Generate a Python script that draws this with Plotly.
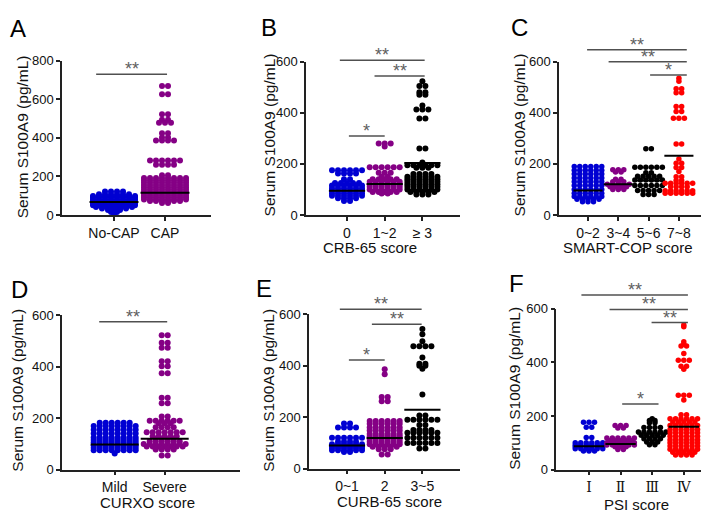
import numpy as np
import plotly.graph_objects as go

# ======================= DATA =======================
# Panel A
A_CATS = ["No-CAP", "CAP"]
A_NOCAP_LEVELS = [122, 108, 98, 90, 82, 74, 66, 58, 50, 42, 34, 26, 15, 5]
A_NOCAP_COUNTS = [4, 6, 8, 8, 8, 8, 8, 8, 8, 7, 5, 3, 2, 1]
A_CAP_LEVELS = [668, 626, 522, 493, 478, 424, 402, 386, 283, 260, 206,
                192, 180, 168, 156, 144, 132, 120, 110, 100, 90, 80, 72, 62]
A_CAP_COUNTS = [2, 2, 2, 2, 3, 2, 2, 4, 6, 4, 2,
                8, 8, 8, 8, 8, 8, 8, 8, 8, 8, 8, 6, 2]
A_LINES = [67, 115]

# Panel B
B_CATS = ["0", "1~2", "\u2265 3"]
B_0_LEVELS = [175, 162, 140, 125, 115, 105, 95, 85, 75, 65, 55]
B_0_COUNTS = [6, 4, 2, 5, 6, 6, 6, 6, 6, 4, 2]
B_12_LEVELS = [280, 268, 187, 165, 150, 140, 130, 120, 110, 100, 90, 84]
B_12_COUNTS = [3, 1, 6, 3, 2, 5, 6, 6, 6, 6, 5, 2]
B_3_LEVELS = [523, 505, 480, 470, 428, 413, 377, 260, 205, 195, 185, 160,
              150, 140, 130, 120, 110, 100, 90, 80]
B_3_COUNTS = [1, 2, 2, 2, 1, 3, 2, 2, 1, 6, 3, 4, 6, 6, 6, 6, 6, 6, 5, 3]
B_LINES = [95, 121, 203]

# Panel C
C_CATS = ["0~2", "3~4", "5~6", "7~8"]
C_02_LEVELS = [190, 175, 160, 145, 130, 115, 100, 85, 72, 62, 52]
C_02_COUNTS = [6, 6, 6, 6, 6, 6, 6, 6, 6, 5, 3]
C_34_LEVELS = [177, 168, 140, 130, 120, 110, 100]
C_34_COUNTS = [3, 2, 2, 3, 5, 4, 3]
C_56_LEVELS = [259, 187, 165, 152, 137, 115, 96, 80]
C_56_COUNTS = [2, 6, 2, 5, 6, 6, 5, 3]
C_78_LEVELS = [535, 523, 494, 478, 424, 405, 378, 278, 219, 202, 186, 170,
               150, 135, 124, 110, 95, 85]
C_78_COUNTS = [1, 1, 2, 2, 2, 2, 3, 2, 1, 2, 2, 1, 2, 2, 6, 4, 6, 6]
C_LINES = [96, 120, 135, 232]

# Panel D
D_CATS = ["Mild", "Severe"]
D_MILD_LEVELS = [182, 170, 155, 140, 125, 115, 105, 95, 85, 75, 63]
D_MILD_COUNTS = [6, 8, 8, 8, 8, 8, 8, 8, 8, 8, 1]
D_SEV_LEVELS = [522, 493, 474, 421, 402, 375, 279, 258, 207, 190, 180, 165,
                145, 130, 120, 110, 100, 90, 78, 55]
D_SEV_COUNTS = [2, 2, 2, 2, 2, 2, 2, 2, 2, 6, 3, 4, 7, 5, 4, 6, 8, 7, 4, 2]
D_LINES = [98, 120]

# Panel E
E_CATS = ["0~1", "2", "3~5"]
E_01_LEVELS = [176, 160, 120, 105, 95, 88, 80, 72, 65]
E_01_COUNTS = [2, 4, 6, 4, 6, 6, 6, 6, 2]
E_2_LEVELS = [386, 367, 279, 262, 185, 175, 160, 148, 135, 125, 115, 105,
              95, 85, 75, 55]
E_2_COUNTS = [1, 1, 2, 2, 6, 6, 6, 6, 6, 6, 6, 6, 6, 5, 3, 2]
E_35_LEVELS = [543, 522, 495, 476, 432, 408, 400, 388, 288, 207, 190, 170,
               150, 140, 120, 100, 78]
E_35_COUNTS = [1, 1, 1, 4, 1, 2, 2, 1, 1, 2, 6, 2, 4, 6, 6, 6, 2]
E_LINES = [90, 119, 229]

# Panel F
F_CATS = ["\u2160", "\u2161", "\u2162", "\u2163"]
F_I_LEVELS = [177, 158, 120, 100, 92, 85, 78, 70]
F_I_COUNTS = [3, 2, 2, 6, 6, 6, 6, 3]
F_II_LEVELS = [165, 155, 118, 108, 100, 92, 85, 75]
F_II_COUNTS = [3, 2, 6, 5, 6, 6, 3, 2]
F_III_LEVELS = [190, 183, 175, 157, 140, 128, 115, 103, 93]
F_III_COUNTS = [1, 2, 2, 4, 6, 5, 4, 3, 2]
F_IV_LEVELS = [540, 533, 477, 468, 461, 433, 408, 386, 375, 278, 260, 205,
               190, 178, 165, 150, 138, 125, 112, 100, 88, 76, 65, 55]
F_IV_COUNTS = [1, 1, 1, 1, 2, 1, 3, 2, 1, 3, 1, 2,
               6, 5, 6, 6, 6, 6, 6, 6, 6, 6, 5, 4]
F_LINES = [87, 96, 135, 160]

# ======================= STYLE / LAYOUT =======================
W, H = 709, 514
FONT = "Liberation Sans, Arial, Helvetica, sans-serif"
BLUE, PURPLE, BLACK, RED = "#0000d2", "#850085", "#000000", "#ff0000"
AXC = "#222222"
SIGC = "#505050"
YTITLE = "Serum S100A9 (pg/mL)"

panels = [
    dict(cats=A_CATS, groups=[(A_NOCAP_LEVELS, A_NOCAP_COUNTS, BLUE),
                              (A_CAP_LEVELS, A_CAP_COUNTS, PURPLE)],
         lines=A_LINES, xpx=(54, 203), ypx=(47, 206), ymax=800, c0=106, sp=51,
         dot=6, sig=[(-0.35, 1.04, 730, "**")],
         letter=("A", 10, 14), ytitle=(14, 126), xtitle=None),
    dict(cats=B_CATS, groups=[(B_0_LEVELS, B_0_COUNTS, BLUE),
                              (B_12_LEVELS, B_12_COUNTS, PURPLE),
                              (B_3_LEVELS, B_3_COUNTS, BLACK)],
         lines=B_LINES, xpx=(298, 452), ypx=(48, 206), ymax=600, c0=339, sp=37.7,
         dot=6, sig=[(-0.19, 2.06, 605, "**"), (0.73, 2.06, 544, "**"), (0.05, 1.0, 309, "*")],
         letter=("B", 261, 13), ytitle=(261, 124), xtitle=("CRB-65 score", 362, 240)),
    dict(cats=C_CATS, groups=[(C_02_LEVELS, C_02_COUNTS, BLUE),
                              (C_34_LEVELS, C_34_COUNTS, PURPLE),
                              (C_56_LEVELS, C_56_COUNTS, BLACK),
                              (C_78_LEVELS, C_78_COUNTS, RED)],
         lines=C_LINES, xpx=(551, 697), ypx=(48, 206), ymax=600, c0=580, sp=30.3,
         dot=5.5, sig=[(-0.03, 3.26, 646, "**"), (0.68, 3.26, 599, "**"), (2.05, 3.26, 548, "*")],
         letter=("C", 511, 13), ytitle=(511, 124), xtitle=("SMART-COP score", 619, 240)),
    dict(cats=D_CATS, groups=[(D_MILD_LEVELS, D_MILD_COUNTS, BLUE),
                              (D_SEV_LEVELS, D_SEV_COUNTS, PURPLE)],
         lines=D_LINES, xpx=(54, 232), ypx=(309.3, 468.3), ymax=600, c0=106.7, sp=50,
         dot=6, sig=[(-0.31, 1.05, 575, "**")],
         letter=("D", 11, 283), ytitle=(10, 387), xtitle=("CURXO score", 139, 502)),
    dict(cats=E_CATS, groups=[(E_01_LEVELS, E_01_COUNTS, BLUE),
                              (E_2_LEVELS, E_2_COUNTS, PURPLE),
                              (E_35_LEVELS, E_35_COUNTS, BLACK)],
         lines=E_LINES, xpx=(301, 451.7), ypx=(308.3, 467.3), ymax=600, c0=339, sp=37.7,
         dot=6, sig=[(-0.19, 1.98, 620, "**"), (0.66, 1.98, 561, "**"), (0.05, 1.0, 422, "*")],
         letter=("E", 256, 282), ytitle=(261, 387), xtitle=("CURB-65 score", 381, 501)),
    dict(cats=F_CATS, groups=[(F_I_LEVELS, F_I_COUNTS, BLUE),
                              (F_II_LEVELS, F_II_COUNTS, PURPLE),
                              (F_III_LEVELS, F_III_COUNTS, BLACK),
                              (F_IV_LEVELS, F_IV_COUNTS, RED)],
         lines=F_LINES, xpx=(548.3, 707), ypx=(302.7, 468.3), ymax=600, c0=581, sp=31.6,
         dot=5.5, sig=[(-0.24, 3.13, 652, "**"), (0.65, 3.13, 598, "**"),
                       (1.98, 3.13, 549, "**"), (1.05, 2.2, 245, "*")],
         letter=("F", 508, 277), ytitle=(507, 385), xtitle=("PSI score", 628, 504),
         tickfamily="DejaVu Serif"),
]


def px2x(px):
    return px / W


def px2y(px):
    return 1 - px / H


def swarm(levels, counts, dx):
    xs, ys = [], []
    for v, n in zip(levels, counts):
        for i in range(n):
            xs.append((i - (n - 1) / 2.0) * dx)
            ys.append(v)
    return np.array(xs), np.array(ys, dtype=float)


fig = go.Figure()
shapes, annos = [], []
lay = {}

for k, p in enumerate(panels, start=1):
    sfx = "" if k == 1 else str(k)
    xr, yr = "x" + sfx, "y" + sfx
    x0px, x1px = p["xpx"]
    ytop, ybot = p["ypx"]
    xdom = [max(0.0, px2x(x0px)), min(1.0, px2x(x1px))]
    ydom = [max(0.0, px2y(ybot)), min(1.0, px2y(ytop))]
    r0 = (x0px - p["c0"]) / p["sp"]
    r1 = (x1px - p["c0"]) / p["sp"]
    dx = p["dot"] / p["sp"]
    ymax = p["ymax"]

    for ci, (lv, ct, col) in enumerate(p["groups"]):
        xs, ys = swarm(lv, ct, dx)
        fig.add_trace(go.Scatter(
            x=ci + xs, y=ys, mode="markers",
            marker=dict(color=col, size=p["dot"], line=dict(width=0)),
            xaxis=xr, yaxis=yr, cliponaxis=False, showlegend=False, hoverinfo="skip"))
    for ci, m in enumerate(p["lines"]):
        fig.add_trace(go.Scatter(
            x=[ci - 0.48, ci + 0.48], y=[m, m], mode="lines",
            line=dict(color="black", width=2), xaxis=xr, yaxis=yr,
            showlegend=False, hoverinfo="skip"))

    lay["xaxis" + sfx] = dict(
        domain=xdom, range=[r0, r1], anchor=yr, showline=True, linecolor=AXC,
        linewidth=1.5, ticks="outside", ticklen=4, tickwidth=1.5, tickcolor=AXC,
        tickvals=list(range(len(p["cats"]))), ticktext=p["cats"],
        tickfont=dict(size=14, color="#111", family=p.get("tickfamily", FONT)),
        showgrid=False, zeroline=False, fixedrange=True)
    lay["yaxis" + sfx] = dict(
        domain=ydom, range=[0, ymax], anchor=xr, showline=True, linecolor=AXC,
        linewidth=1.5, ticks="outside", ticklen=4, tickwidth=1.5, tickcolor=AXC,
        tickvals=list(range(0, ymax + 1, 200)), tickfont=dict(size=13, color="#111"),
        showgrid=False, zeroline=False, fixedrange=True)

    for (a, b, v, lab) in p["sig"]:
        fa = (a - r0) / (r1 - r0)
        fb = (b - r0) / (r1 - r0)
        fy = v / ymax
        shapes.append(dict(type="line", xref=xr + " domain", yref=yr + " domain",
                           x0=fa, x1=fb, y0=fy, y1=fy,
                           line=dict(color=SIGC, width=1.5)))
        annos.append(dict(text=lab, xref=xr + " domain", yref=yr + " domain",
                          x=(fa + fb) / 2, y=fy, xanchor="center", yanchor="bottom",
                          yshift=-7, showarrow=False,
                          font=dict(size=18, color="#606060", family=FONT)))

    L, lx, ly = p["letter"]
    annos.append(dict(text=L, xref="paper", yref="paper", x=px2x(lx), y=px2y(ly),
                      xanchor="center", yanchor="middle", showarrow=False,
                      font=dict(size=24, color="black", family=FONT)))
    tx, ty = p["ytitle"]
    annos.append(dict(text=YTITLE, xref="paper", yref="paper", x=px2x(tx), y=px2y(ty),
                      xanchor="center", yanchor="middle", textangle=-90, showarrow=False,
                      font=dict(size=15.5, color="#111", family=FONT)))
    if p["xtitle"]:
        t, tx, ty = p["xtitle"]
        annos.append(dict(text=t, xref="paper", yref="paper", x=px2x(tx), y=px2y(ty),
                          xanchor="center", yanchor="middle", showarrow=False,
                          font=dict(size=15, color="#111", family=FONT)))

fig.update_layout(
    width=W, height=H, autosize=False,
    margin=dict(l=0, r=0, t=0, b=0),
    paper_bgcolor="white", plot_bgcolor="white",
    font=dict(family=FONT, color="#111"),
    shapes=shapes, annotations=annos, showlegend=False,
    **lay)

fig.write_html("out.html")
